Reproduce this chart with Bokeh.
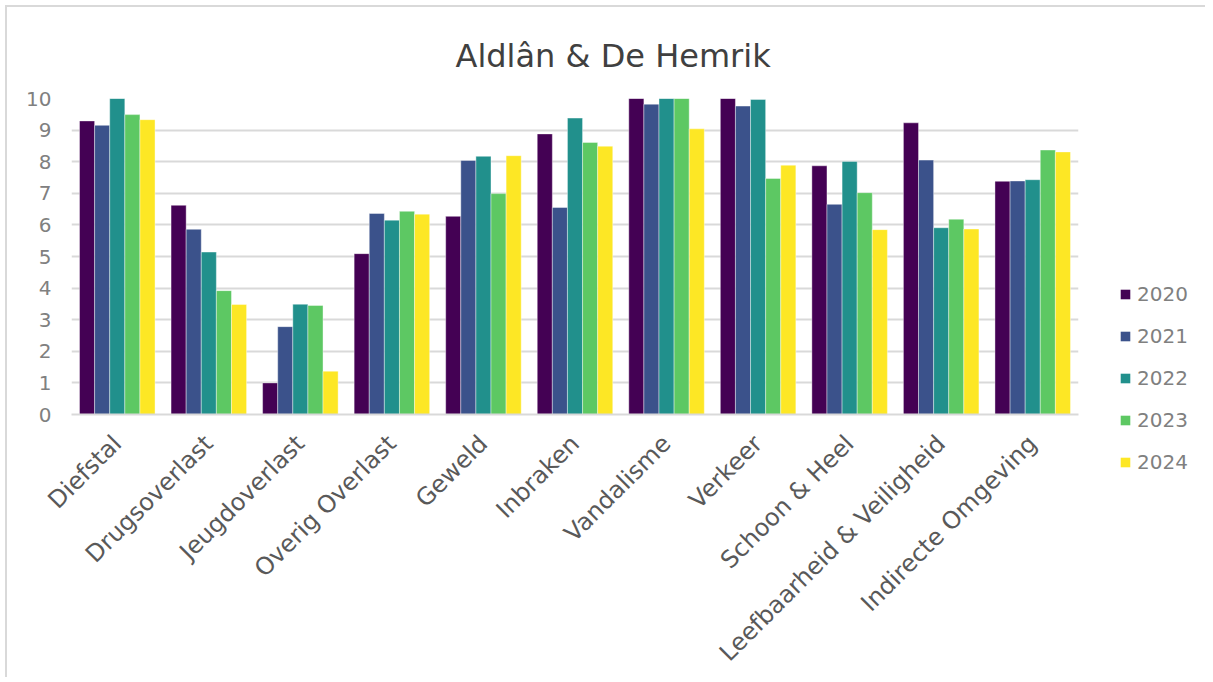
from bokeh.plotting import figure
from bokeh.models import ColumnDataSource, FactorRange, Range1d, Legend, LegendItem, Title
from bokeh.transform import dodge
from bokeh.embed import file_html
from bokeh.resources import INLINE
from math import pi

categories = ["Diefstal", "Drugsoverlast", "Jeugdoverlast", "Overig Overlast", "Geweld",
              "Inbraken", "Vandalisme", "Verkeer", "Schoon & Heel",
              "Leefbaarheid & Veiligheid", "Indirecte Omgeving"]
years = ["2020", "2021", "2022", "2023", "2024"]
y2020 = [9.29, 6.62, 1.00, 5.09, 6.27, 8.88, 10.0, 10.0, 7.87, 9.23, 7.38]
y2021 = [9.15, 5.86, 2.78, 6.36, 8.04, 6.55, 9.82, 9.76, 6.65, 8.05, 7.39]
y2022 = [10.0, 5.14, 3.49, 6.15, 8.17, 9.38, 10.0, 9.97, 8.01, 5.91, 7.43]
y2023 = [9.49, 3.92, 3.45, 6.43, 6.99, 8.61, 10.0, 7.47, 7.02, 6.18, 8.37]
y2024 = [9.33, 3.48, 1.37, 6.34, 8.19, 8.49, 9.04, 7.89, 5.85, 5.87, 8.31]
colors = ["#440154", "#3B528B", "#21908C", "#5DC863", "#FDE725"]

source = ColumnDataSource(data=dict(cat=categories, y2020=y2020, y2021=y2021,
                                    y2022=y2022, y2023=y2023, y2024=y2024))

FONT = "DejaVu Sans"
p = figure(x_range=FactorRange(*categories, range_padding=0),
           y_range=Range1d(0, 10),
           width=1200, height=672, output_backend="svg", toolbar_location=None,
           min_border_left=64, min_border_right=129, min_border_top=91, min_border_bottom=263)
p.styles = {"margin-left": "5px", "margin-top": "5px",
            "border-left": "2px solid #d9d9d9", "border-top": "2px solid #d9d9d9"}
p.outline_line_color = None

bw = 0.165
offsets = [-2 * bw, -bw, 0, bw, 2 * bw]
for yr, col, off in zip(years, colors, offsets):
    p.vbar(x=dodge("cat", off, range=p.x_range), top="y" + yr, width=bw,
           source=source, fill_color=col, line_color="white", line_alpha=0.5, line_width=0.8)

# axes
p.yaxis.ticker = list(range(0, 11))
p.yaxis.axis_line_color = None
p.yaxis.major_tick_line_color = None
p.yaxis.minor_tick_line_color = None
p.yaxis.major_label_text_font = FONT
p.yaxis.major_label_text_font_size = "20px"
p.yaxis.major_label_text_color = "#808080"
p.yaxis.major_label_standoff = 14

p.xaxis.axis_line_color = "#d9d9d9"
p.xaxis.axis_line_width = 2
p.xaxis.major_tick_line_color = None
p.xaxis.minor_tick_line_color = None
p.xaxis.major_label_orientation = pi / 4
p.xaxis.major_label_text_font = FONT
p.xaxis.major_label_text_font_size = "24px"
p.xaxis.major_label_text_color = "#595959"
p.xaxis.major_label_standoff = 19

p.xgrid.grid_line_color = None
p.ygrid.grid_line_color = "#d9d9d9"
p.ygrid.grid_line_width = 2

# title
p.title = Title(text="Aldlân & De Hemrik", align="left", offset=384, text_font=FONT,
                text_font_size="32px", text_color="#404040", text_font_style="normal",
                standoff=48)

# legend in a small separate figure, positioned with CSS
p2 = figure(width=90, height=200, output_backend="svg", toolbar_location=None,
            x_range=Range1d(0, 1), y_range=Range1d(0, 1), x_axis_type=None, y_axis_type=None,
            min_border=0, min_border_left=0, min_border_right=0, min_border_top=0,
            min_border_bottom=0)
p2.styles = {"position": "absolute", "left": "1119px", "top": "282px"}
p2.outline_line_color = None
p2.xgrid.visible = False
p2.ygrid.visible = False
# swatch renderers for the legend (their single bar lies outside the visible range)
swatch_src = ColumnDataSource(data=dict(x=[-5], top=[0]))
dummy = []
for yr, col in zip(years, colors):
    dummy.append(p2.vbar(x="x", top="top", width=0.1, source=swatch_src,
                         fill_color=col, line_color=None))

legend = Legend(items=[LegendItem(label=yr, renderers=[r]) for yr, r in zip(years, dummy)],
                location="top_left", orientation="vertical",
                glyph_width=12, glyph_height=12, label_standoff=6, spacing=18,
                padding=0, margin=0, border_line_color=None, background_fill_alpha=0,
                label_text_font=FONT, label_text_font_size="20px", label_text_color="#808080")
p2.add_layout(legend)

open("out.html", "w").write(file_html([p, p2], INLINE))
